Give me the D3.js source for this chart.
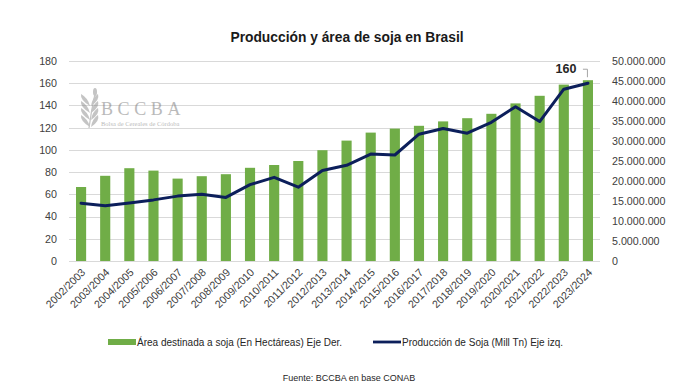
<!DOCTYPE html>
<html>
<head>
<meta charset="utf-8">
<script src="https://cdn.jsdelivr.net/npm/d3@7"></script>
<style>
  body { margin: 0; background: #fff; }
  svg { display: block; }
  text { font-family: "Liberation Sans", Arial, sans-serif; fill: #404040; }
</style>
</head>
<body>
<div id="chart"></div>
<script>
// campañas (eje x)
var campanas = ["2002/2003", "2003/2004", "2004/2005", "2005/2006", "2006/2007", "2007/2008",
  "2008/2009", "2009/2010", "2010/2011", "2011/2012", "2012/2013", "2013/2014", "2014/2015",
  "2015/2016", "2016/2017", "2017/2018", "2018/2019", "2019/2020", "2020/2021", "2021/2022",
  "2022/2023", "2023/2024"];

// área sembrada en hectáreas (barras, eje derecho)
var area = [18500000, 21300000, 23200000, 22600000, 20600000, 21200000, 21700000, 23300000,
  24000000, 25000000, 27700000, 30100000, 32100000, 33100000, 33800000, 34900000, 35700000,
  36800000, 39400000, 41300000, 44100000, 45200000];

// producción en millones de toneladas (línea, eje izquierdo)
var produccion = [52.0, 49.8, 52.3, 55.0, 58.4, 60.0, 57.2, 68.7, 75.3, 66.4, 81.5, 86.1,
  96.2, 95.4, 114.1, 119.3, 115.0, 124.8, 138.9, 125.5, 154.6, 160.0];

var ticksIzq = [0, 20, 40, 60, 80, 100, 120, 140, 160, 180];
var ticksDer = [0, 5e6, 10e6, 15e6, 20e6, 25e6, 30e6, 35e6, 40e6, 45e6, 50e6];

var WIDTH = 693, HEIGHT = 388;
var plot = {left: 69, right: 600, top: 61, bottom: 261};

var verde = '#70ad47';
var azul = '#0c1f5b';

var svg = d3.select('#chart').append('svg')
  .attr('width', WIDTH)
  .attr('height', HEIGHT);

var x = d3.scaleBand()
  .domain(campanas)
  .range([plot.left, plot.right])
  .paddingInner(0.58)
  .paddingOuter(0.29);

var yIzq = d3.scaleLinear().domain([0, 180]).range([plot.bottom, plot.top]);
var yDer = d3.scaleLinear().domain([0, 50e6]).range([plot.bottom, plot.top]);

// formato con punto como separador de miles
var esLocale = d3.formatLocale({decimal: ",", thousands: ".", grouping: [3], currency: ["", ""]});
var fmtMiles = esLocale.format(",.0f");

// grid lines
svg.append('g')
  .selectAll('line')
  .data(ticksIzq)
  .enter()
  .append('line')
  .attr('x1', plot.left)
  .attr('x2', plot.right)
  .attr('y1', function(d) { return Math.round(yIzq(d)) + 0.5; })
  .attr('y2', function(d) { return Math.round(yIzq(d)) + 0.5; })
  .attr('stroke', '#d9d9d9')
  .attr('stroke-width', 1);

// logo BCCBA (marca de agua)
var logo = svg.append('g').attr('transform', 'translate(88,92)').attr('opacity', 0.5);
logo.append('path')
  .attr('d', 'M1,36 Q3,20 7,2')
  .attr('stroke', '#8a8a8a').attr('stroke-width', 1.2).attr('fill', 'none');
[6, 13, 20, 27].forEach(function(dy, i) {
  logo.append('path')
    .attr('d', 'M2,' + (dy + 8) + ' Q-8,' + (dy + 2) + ' -7,' + (dy - 4) + ' Q0,' + dy + ' 2,' + (dy + 8) + 'Z')
    .attr('fill', '#8a8a8a');
  logo.append('path')
    .attr('d', 'M3,' + (dy + 8) + ' Q12,' + (dy + 2) + ' 10,' + (dy - 4) + ' Q4,' + dy + ' 3,' + (dy + 8) + 'Z')
    .attr('fill', '#8a8a8a');
});
logo.append('ellipse').attr('cx', 7).attr('cy', 0).attr('rx', 2).attr('ry', 4).attr('fill', '#8a8a8a');
logo.append('text')
  .attr('x', 13).attr('y', 23)
  .style('font-family', '"Liberation Serif", "DejaVu Serif", serif')
  .style('font-size', '18px')
  .style('letter-spacing', '4.6px')
  .style('fill', '#777')
  .text('BCCBA');
logo.append('text')
  .attr('x', 13).attr('y', 34)
  .style('font-family', '"Liberation Serif", "DejaVu Serif", serif')
  .style('font-size', '6.5px')
  .style('fill', '#777')
  .text('Bolsa de Cereales de Córdoba');

// barras de área
svg.append('g')
  .selectAll('rect')
  .data(area)
  .enter()
  .append('rect')
  .attr('x', function(d, i) { return x(campanas[i]); })
  .attr('width', x.bandwidth())
  .attr('y', function(d) { return yDer(d); })
  .attr('height', function(d) { return plot.bottom - yDer(d); })
  .attr('fill', verde);

// línea de producción
var linea = d3.line()
  .x(function(d, i) { return x(campanas[i]) + x.bandwidth() / 2; })
  .y(function(d) { return yIzq(d); });

svg.append('path')
  .datum(produccion)
  .attr('d', linea)
  .attr('fill', 'none')
  .attr('stroke', azul)
  .attr('stroke-width', 3)
  .attr('stroke-linejoin', 'round')
  .attr('stroke-linecap', 'round');

// etiqueta del último valor con línea guía
var ultimo = produccion.length - 1;
var xUlt = x(campanas[ultimo]) + x.bandwidth() / 2;
var yUlt = yIzq(produccion[ultimo]);
svg.append('path')
  .attr('d', 'M' + (xUlt - 5) + ',' + (yUlt - 14) + 'H' + (xUlt - 0.5) + 'V' + (yUlt - 6))
  .attr('fill', 'none')
  .attr('stroke', '#a6a6a6')
  .attr('stroke-width', 1);
svg.append('text')
  .attr('x', xUlt - 22)
  .attr('y', yUlt - 10)
  .attr('text-anchor', 'middle')
  .style('font-size', '12.5px')
  .style('font-weight', 'bold')
  .style('fill', '#262626')
  .text(fmtMiles(produccion[ultimo]));

// eje izquierdo
var ejeIzq = d3.axisLeft(yIzq).tickValues(ticksIzq).tickSize(0).tickPadding(0);
svg.append('g')
  .attr('transform', 'translate(' + 57 + ',0)')
  .call(ejeIzq)
  .call(function(g) { g.select('.domain').remove(); })
  .selectAll('text')
  .style('font-family', '"Liberation Sans", Arial, sans-serif')
  .style('font-size', '10.7px')
  .style('fill', '#404040');

// eje derecho
var ejeDer = d3.axisRight(yDer).tickValues(ticksDer).tickSize(0).tickPadding(0).tickFormat(fmtMiles);
svg.append('g')
  .attr('transform', 'translate(' + 612 + ',0)')
  .call(ejeDer)
  .call(function(g) { g.select('.domain').remove(); })
  .selectAll('text')
  .style('font-family', '"Liberation Sans", Arial, sans-serif')
  .style('font-size', '10.7px')
  .style('fill', '#404040');

// eje x con etiquetas a 45 grados
var ejeX = d3.axisBottom(x).tickSize(0).tickPadding(0);
svg.append('g')
  .attr('transform', 'translate(0,' + plot.bottom + ')')
  .call(ejeX)
  .call(function(g) { g.select('.domain').remove(); })
  .selectAll('text')
  .attr('text-anchor', 'end')
  .attr('dy', null)
  .attr('y', 0)
  .attr('transform', 'translate(5,12) rotate(-45)')
  .style('font-family', '"Liberation Sans", Arial, sans-serif')
  .style('font-size', '10.7px')
  .style('fill', '#404040');

// título
svg.append('text')
  .attr('x', 347)
  .attr('y', 42)
  .attr('text-anchor', 'middle')
  .style('font-size', '13.8px')
  .style('font-weight', 'bold')
  .style('fill', '#1a1a1a')
  .text('Producción y área de soja en Brasil');

// leyenda
var leyenda = svg.append('g').attr('transform', 'translate(0,342)');
leyenda.append('rect')
  .attr('x', 108).attr('y', -3).attr('width', 28).attr('height', 6)
  .attr('fill', verde);
leyenda.append('text')
  .attr('x', 137).attr('y', 4)
  .style('font-size', '10px')
  .style('fill', '#262626')
  .text('Área destinada a soja (En Hectáreas) Eje Der.');
leyenda.append('line')
  .attr('x1', 373).attr('x2', 401).attr('y1', 0).attr('y2', 0)
  .attr('stroke', azul).attr('stroke-width', 2.8);
leyenda.append('text')
  .attr('x', 402).attr('y', 4)
  .style('font-size', '10px')
  .style('fill', '#262626')
  .text('Producción de Soja (Mill Tn) Eje izq.');

// fuente
svg.append('text')
  .attr('x', 349)
  .attr('y', 381)
  .attr('text-anchor', 'middle')
  .style('font-size', '9px')
  .style('fill', '#262626')
  .text('Fuente: BCCBA en base CONAB');
</script>
</body>
</html>
